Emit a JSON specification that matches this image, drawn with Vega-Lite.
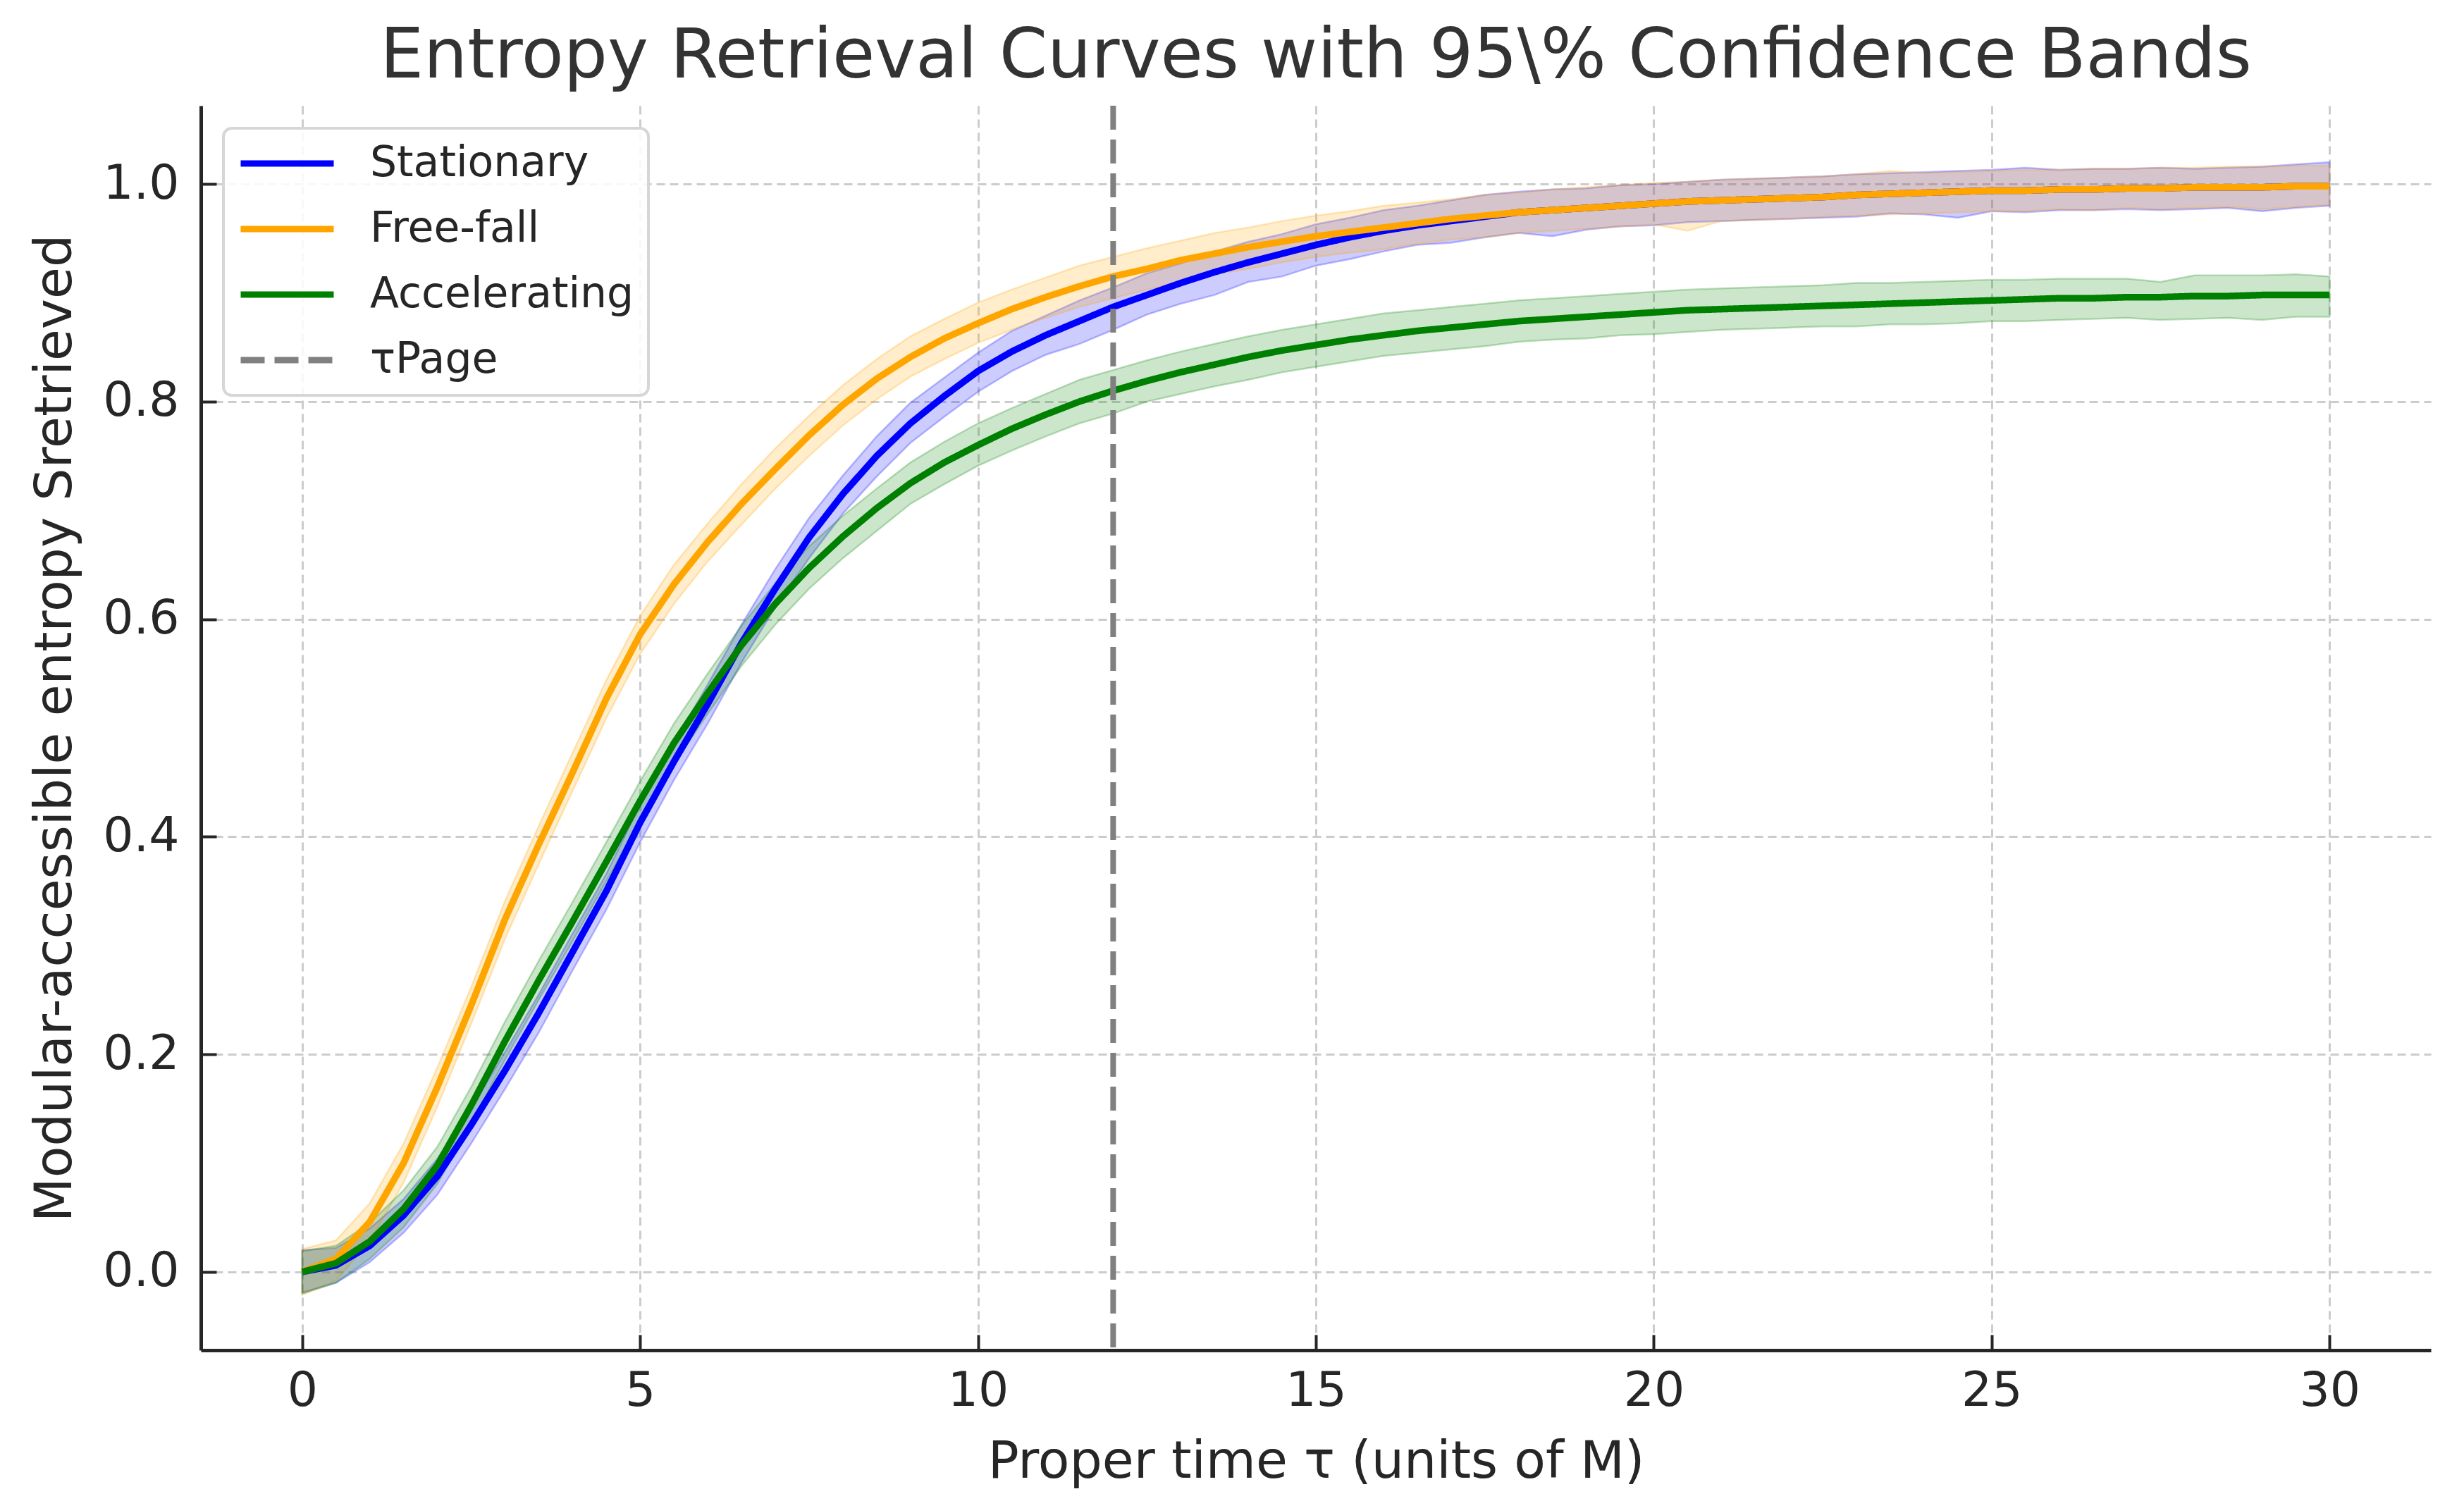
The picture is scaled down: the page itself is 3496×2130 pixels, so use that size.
{
  "$schema": "https://vega.github.io/schema/vega-lite/v6.json",
  "description": "Entropy retrieval curves for three observers with 95% confidence bands and the Page time marked.",
  "autosize": {"type": "none"},
  "padding": {"left": 285, "top": 150, "right": 47, "bottom": 214},
  "width": 3164,
  "height": 1766,
  "background": "white",
  "title": {
    "text": "Entropy Retrieval Curves with 95\\% Confidence Bands",
    "font": "DejaVu Sans",
    "fontSize": 98,
    "fontWeight": "normal",
    "color": "#333333",
    "anchor": "middle",
    "baseline": "alphabetic",
    "offset": -62
  },
  "datasets": {
    "curves": [
      {"s": "Stationary", "t": 0, "y": 0.000, "lo": -0.019, "hi": 0.020},
      {"s": "Stationary", "t": 0.5, "y": 0.006, "lo": -0.010, "hi": 0.022},
      {"s": "Stationary", "t": 1, "y": 0.024, "lo": 0.009, "hi": 0.040},
      {"s": "Stationary", "t": 1.5, "y": 0.052, "lo": 0.036, "hi": 0.067},
      {"s": "Stationary", "t": 2, "y": 0.088, "lo": 0.071, "hi": 0.104},
      {"s": "Stationary", "t": 2.5, "y": 0.135, "lo": 0.118, "hi": 0.151},
      {"s": "Stationary", "t": 3, "y": 0.185, "lo": 0.168, "hi": 0.202},
      {"s": "Stationary", "t": 3.5, "y": 0.238, "lo": 0.220, "hi": 0.255},
      {"s": "Stationary", "t": 4, "y": 0.294, "lo": 0.277, "hi": 0.311},
      {"s": "Stationary", "t": 4.5, "y": 0.350, "lo": 0.333, "hi": 0.366},
      {"s": "Stationary", "t": 5, "y": 0.413, "lo": 0.395, "hi": 0.430},
      {"s": "Stationary", "t": 5.5, "y": 0.469, "lo": 0.452, "hi": 0.486},
      {"s": "Stationary", "t": 6, "y": 0.522, "lo": 0.504, "hi": 0.540},
      {"s": "Stationary", "t": 6.5, "y": 0.578, "lo": 0.560, "hi": 0.595},
      {"s": "Stationary", "t": 7, "y": 0.628, "lo": 0.611, "hi": 0.646},
      {"s": "Stationary", "t": 7.5, "y": 0.675, "lo": 0.656, "hi": 0.693},
      {"s": "Stationary", "t": 8, "y": 0.715, "lo": 0.697, "hi": 0.732},
      {"s": "Stationary", "t": 8.5, "y": 0.750, "lo": 0.731, "hi": 0.768},
      {"s": "Stationary", "t": 9, "y": 0.780, "lo": 0.762, "hi": 0.799},
      {"s": "Stationary", "t": 9.5, "y": 0.805, "lo": 0.786, "hi": 0.822},
      {"s": "Stationary", "t": 10, "y": 0.828, "lo": 0.809, "hi": 0.845},
      {"s": "Stationary", "t": 10.5, "y": 0.846, "lo": 0.828, "hi": 0.865},
      {"s": "Stationary", "t": 11, "y": 0.861, "lo": 0.843, "hi": 0.879},
      {"s": "Stationary", "t": 11.5, "y": 0.874, "lo": 0.853, "hi": 0.893},
      {"s": "Stationary", "t": 12, "y": 0.887, "lo": 0.866, "hi": 0.905},
      {"s": "Stationary", "t": 12.5, "y": 0.898, "lo": 0.880, "hi": 0.918},
      {"s": "Stationary", "t": 13, "y": 0.909, "lo": 0.890, "hi": 0.927},
      {"s": "Stationary", "t": 13.5, "y": 0.919, "lo": 0.898, "hi": 0.938},
      {"s": "Stationary", "t": 14, "y": 0.928, "lo": 0.910, "hi": 0.947},
      {"s": "Stationary", "t": 14.5, "y": 0.936, "lo": 0.915, "hi": 0.954},
      {"s": "Stationary", "t": 15, "y": 0.944, "lo": 0.925, "hi": 0.963},
      {"s": "Stationary", "t": 15.5, "y": 0.951, "lo": 0.931, "hi": 0.969},
      {"s": "Stationary", "t": 16, "y": 0.957, "lo": 0.938, "hi": 0.976},
      {"s": "Stationary", "t": 16.5, "y": 0.962, "lo": 0.944, "hi": 0.980},
      {"s": "Stationary", "t": 17, "y": 0.966, "lo": 0.946, "hi": 0.985},
      {"s": "Stationary", "t": 17.5, "y": 0.970, "lo": 0.951, "hi": 0.990},
      {"s": "Stationary", "t": 18, "y": 0.974, "lo": 0.955, "hi": 0.993},
      {"s": "Stationary", "t": 18.5, "y": 0.976, "lo": 0.952, "hi": 0.995},
      {"s": "Stationary", "t": 19, "y": 0.978, "lo": 0.958, "hi": 0.996},
      {"s": "Stationary", "t": 19.5, "y": 0.980, "lo": 0.961, "hi": 0.999},
      {"s": "Stationary", "t": 20, "y": 0.982, "lo": 0.962, "hi": 1.000},
      {"s": "Stationary", "t": 20.5, "y": 0.984, "lo": 0.965, "hi": 1.002},
      {"s": "Stationary", "t": 21, "y": 0.985, "lo": 0.966, "hi": 1.004},
      {"s": "Stationary", "t": 21.5, "y": 0.986, "lo": 0.967, "hi": 1.005},
      {"s": "Stationary", "t": 22, "y": 0.987, "lo": 0.968, "hi": 1.006},
      {"s": "Stationary", "t": 22.5, "y": 0.988, "lo": 0.969, "hi": 1.007},
      {"s": "Stationary", "t": 23, "y": 0.990, "lo": 0.970, "hi": 1.009},
      {"s": "Stationary", "t": 23.5, "y": 0.991, "lo": 0.973, "hi": 1.010},
      {"s": "Stationary", "t": 24, "y": 0.992, "lo": 0.972, "hi": 1.011},
      {"s": "Stationary", "t": 24.5, "y": 0.993, "lo": 0.969, "hi": 1.012},
      {"s": "Stationary", "t": 25, "y": 0.994, "lo": 0.975, "hi": 1.013},
      {"s": "Stationary", "t": 25.5, "y": 0.994, "lo": 0.974, "hi": 1.015},
      {"s": "Stationary", "t": 26, "y": 0.995, "lo": 0.976, "hi": 1.013},
      {"s": "Stationary", "t": 26.5, "y": 0.995, "lo": 0.976, "hi": 1.014},
      {"s": "Stationary", "t": 27, "y": 0.996, "lo": 0.977, "hi": 1.014},
      {"s": "Stationary", "t": 27.5, "y": 0.996, "lo": 0.976, "hi": 1.015},
      {"s": "Stationary", "t": 28, "y": 0.997, "lo": 0.977, "hi": 1.014},
      {"s": "Stationary", "t": 28.5, "y": 0.997, "lo": 0.978, "hi": 1.015},
      {"s": "Stationary", "t": 29, "y": 0.997, "lo": 0.975, "hi": 1.016},
      {"s": "Stationary", "t": 29.5, "y": 0.998, "lo": 0.978, "hi": 1.018},
      {"s": "Stationary", "t": 30, "y": 0.998, "lo": 0.980, "hi": 1.020},
      {"s": "Free-fall", "t": 0, "y": 0.000, "lo": -0.021, "hi": 0.021},
      {"s": "Free-fall", "t": 0.5, "y": 0.012, "lo": -0.008, "hi": 0.029},
      {"s": "Free-fall", "t": 1, "y": 0.046, "lo": 0.028, "hi": 0.063},
      {"s": "Free-fall", "t": 1.5, "y": 0.100, "lo": 0.082, "hi": 0.118},
      {"s": "Free-fall", "t": 2, "y": 0.170, "lo": 0.152, "hi": 0.188},
      {"s": "Free-fall", "t": 2.5, "y": 0.245, "lo": 0.228, "hi": 0.262},
      {"s": "Free-fall", "t": 3, "y": 0.324, "lo": 0.306, "hi": 0.341},
      {"s": "Free-fall", "t": 3.5, "y": 0.393, "lo": 0.375, "hi": 0.410},
      {"s": "Free-fall", "t": 4, "y": 0.459, "lo": 0.442, "hi": 0.477},
      {"s": "Free-fall", "t": 4.5, "y": 0.527, "lo": 0.509, "hi": 0.544},
      {"s": "Free-fall", "t": 5, "y": 0.586, "lo": 0.568, "hi": 0.603},
      {"s": "Free-fall", "t": 5.5, "y": 0.632, "lo": 0.614, "hi": 0.650},
      {"s": "Free-fall", "t": 6, "y": 0.671, "lo": 0.653, "hi": 0.688},
      {"s": "Free-fall", "t": 6.5, "y": 0.706, "lo": 0.687, "hi": 0.724},
      {"s": "Free-fall", "t": 7, "y": 0.738, "lo": 0.720, "hi": 0.757},
      {"s": "Free-fall", "t": 7.5, "y": 0.769, "lo": 0.750, "hi": 0.787},
      {"s": "Free-fall", "t": 8, "y": 0.797, "lo": 0.778, "hi": 0.815},
      {"s": "Free-fall", "t": 8.5, "y": 0.821, "lo": 0.802, "hi": 0.839},
      {"s": "Free-fall", "t": 9, "y": 0.841, "lo": 0.823, "hi": 0.860},
      {"s": "Free-fall", "t": 9.5, "y": 0.858, "lo": 0.839, "hi": 0.876},
      {"s": "Free-fall", "t": 10, "y": 0.872, "lo": 0.854, "hi": 0.891},
      {"s": "Free-fall", "t": 10.5, "y": 0.885, "lo": 0.866, "hi": 0.903},
      {"s": "Free-fall", "t": 11, "y": 0.896, "lo": 0.877, "hi": 0.914},
      {"s": "Free-fall", "t": 11.5, "y": 0.906, "lo": 0.887, "hi": 0.925},
      {"s": "Free-fall", "t": 12, "y": 0.915, "lo": 0.895, "hi": 0.933},
      {"s": "Free-fall", "t": 12.5, "y": 0.922, "lo": 0.903, "hi": 0.941},
      {"s": "Free-fall", "t": 13, "y": 0.930, "lo": 0.910, "hi": 0.948},
      {"s": "Free-fall", "t": 13.5, "y": 0.936, "lo": 0.917, "hi": 0.955},
      {"s": "Free-fall", "t": 14, "y": 0.942, "lo": 0.922, "hi": 0.960},
      {"s": "Free-fall", "t": 14.5, "y": 0.947, "lo": 0.928, "hi": 0.966},
      {"s": "Free-fall", "t": 15, "y": 0.952, "lo": 0.933, "hi": 0.971},
      {"s": "Free-fall", "t": 15.5, "y": 0.956, "lo": 0.937, "hi": 0.975},
      {"s": "Free-fall", "t": 16, "y": 0.960, "lo": 0.940, "hi": 0.980},
      {"s": "Free-fall", "t": 16.5, "y": 0.964, "lo": 0.945, "hi": 0.983},
      {"s": "Free-fall", "t": 17, "y": 0.968, "lo": 0.949, "hi": 0.986},
      {"s": "Free-fall", "t": 17.5, "y": 0.971, "lo": 0.951, "hi": 0.990},
      {"s": "Free-fall", "t": 18, "y": 0.974, "lo": 0.955, "hi": 0.992},
      {"s": "Free-fall", "t": 18.5, "y": 0.976, "lo": 0.957, "hi": 0.995},
      {"s": "Free-fall", "t": 19, "y": 0.978, "lo": 0.959, "hi": 0.997},
      {"s": "Free-fall", "t": 19.5, "y": 0.980, "lo": 0.961, "hi": 0.999},
      {"s": "Free-fall", "t": 20, "y": 0.982, "lo": 0.963, "hi": 1.001},
      {"s": "Free-fall", "t": 20.5, "y": 0.984, "lo": 0.957, "hi": 1.002},
      {"s": "Free-fall", "t": 21, "y": 0.985, "lo": 0.966, "hi": 1.004},
      {"s": "Free-fall", "t": 21.5, "y": 0.986, "lo": 0.967, "hi": 1.005},
      {"s": "Free-fall", "t": 22, "y": 0.987, "lo": 0.968, "hi": 1.006},
      {"s": "Free-fall", "t": 22.5, "y": 0.988, "lo": 0.970, "hi": 1.007},
      {"s": "Free-fall", "t": 23, "y": 0.990, "lo": 0.971, "hi": 1.009},
      {"s": "Free-fall", "t": 23.5, "y": 0.991, "lo": 0.972, "hi": 1.012},
      {"s": "Free-fall", "t": 24, "y": 0.992, "lo": 0.973, "hi": 1.010},
      {"s": "Free-fall", "t": 24.5, "y": 0.993, "lo": 0.974, "hi": 1.011},
      {"s": "Free-fall", "t": 25, "y": 0.994, "lo": 0.975, "hi": 1.012},
      {"s": "Free-fall", "t": 25.5, "y": 0.994, "lo": 0.975, "hi": 1.013},
      {"s": "Free-fall", "t": 26, "y": 0.995, "lo": 0.977, "hi": 1.013},
      {"s": "Free-fall", "t": 26.5, "y": 0.995, "lo": 0.976, "hi": 1.014},
      {"s": "Free-fall", "t": 27, "y": 0.996, "lo": 0.978, "hi": 1.014},
      {"s": "Free-fall", "t": 27.5, "y": 0.996, "lo": 0.977, "hi": 1.015},
      {"s": "Free-fall", "t": 28, "y": 0.997, "lo": 0.978, "hi": 1.015},
      {"s": "Free-fall", "t": 28.5, "y": 0.997, "lo": 0.979, "hi": 1.016},
      {"s": "Free-fall", "t": 29, "y": 0.997, "lo": 0.977, "hi": 1.016},
      {"s": "Free-fall", "t": 29.5, "y": 0.998, "lo": 0.979, "hi": 1.017},
      {"s": "Free-fall", "t": 30, "y": 0.998, "lo": 0.981, "hi": 1.017},
      {"s": "Accelerating", "t": 0, "y": 0.000, "lo": -0.020, "hi": 0.019},
      {"s": "Accelerating", "t": 0.5, "y": 0.008, "lo": -0.010, "hi": 0.024},
      {"s": "Accelerating", "t": 1, "y": 0.028, "lo": 0.012, "hi": 0.045},
      {"s": "Accelerating", "t": 1.5, "y": 0.058, "lo": 0.041, "hi": 0.075},
      {"s": "Accelerating", "t": 2, "y": 0.098, "lo": 0.081, "hi": 0.115},
      {"s": "Accelerating", "t": 2.5, "y": 0.153, "lo": 0.136, "hi": 0.170},
      {"s": "Accelerating", "t": 3, "y": 0.212, "lo": 0.195, "hi": 0.230},
      {"s": "Accelerating", "t": 3.5, "y": 0.268, "lo": 0.250, "hi": 0.286},
      {"s": "Accelerating", "t": 4, "y": 0.322, "lo": 0.304, "hi": 0.340},
      {"s": "Accelerating", "t": 4.5, "y": 0.377, "lo": 0.359, "hi": 0.395},
      {"s": "Accelerating", "t": 5, "y": 0.433, "lo": 0.414, "hi": 0.451},
      {"s": "Accelerating", "t": 5.5, "y": 0.486, "lo": 0.467, "hi": 0.504},
      {"s": "Accelerating", "t": 6, "y": 0.532, "lo": 0.513, "hi": 0.550},
      {"s": "Accelerating", "t": 6.5, "y": 0.576, "lo": 0.557, "hi": 0.594},
      {"s": "Accelerating", "t": 7, "y": 0.614, "lo": 0.595, "hi": 0.633},
      {"s": "Accelerating", "t": 7.5, "y": 0.647, "lo": 0.628, "hi": 0.667},
      {"s": "Accelerating", "t": 8, "y": 0.676, "lo": 0.656, "hi": 0.695},
      {"s": "Accelerating", "t": 8.5, "y": 0.702, "lo": 0.681, "hi": 0.720},
      {"s": "Accelerating", "t": 9, "y": 0.725, "lo": 0.706, "hi": 0.744},
      {"s": "Accelerating", "t": 9.5, "y": 0.744, "lo": 0.724, "hi": 0.763},
      {"s": "Accelerating", "t": 10, "y": 0.760, "lo": 0.741, "hi": 0.780},
      {"s": "Accelerating", "t": 10.5, "y": 0.775, "lo": 0.755, "hi": 0.794},
      {"s": "Accelerating", "t": 11, "y": 0.788, "lo": 0.768, "hi": 0.807},
      {"s": "Accelerating", "t": 11.5, "y": 0.800, "lo": 0.780, "hi": 0.820},
      {"s": "Accelerating", "t": 12, "y": 0.810, "lo": 0.789, "hi": 0.829},
      {"s": "Accelerating", "t": 12.5, "y": 0.819, "lo": 0.800, "hi": 0.838},
      {"s": "Accelerating", "t": 13, "y": 0.827, "lo": 0.807, "hi": 0.846},
      {"s": "Accelerating", "t": 13.5, "y": 0.834, "lo": 0.814, "hi": 0.853},
      {"s": "Accelerating", "t": 14, "y": 0.841, "lo": 0.820, "hi": 0.860},
      {"s": "Accelerating", "t": 14.5, "y": 0.847, "lo": 0.827, "hi": 0.866},
      {"s": "Accelerating", "t": 15, "y": 0.852, "lo": 0.832, "hi": 0.871},
      {"s": "Accelerating", "t": 15.5, "y": 0.857, "lo": 0.837, "hi": 0.876},
      {"s": "Accelerating", "t": 16, "y": 0.861, "lo": 0.842, "hi": 0.881},
      {"s": "Accelerating", "t": 16.5, "y": 0.865, "lo": 0.845, "hi": 0.884},
      {"s": "Accelerating", "t": 17, "y": 0.868, "lo": 0.848, "hi": 0.887},
      {"s": "Accelerating", "t": 17.5, "y": 0.871, "lo": 0.851, "hi": 0.890},
      {"s": "Accelerating", "t": 18, "y": 0.874, "lo": 0.855, "hi": 0.893},
      {"s": "Accelerating", "t": 18.5, "y": 0.876, "lo": 0.857, "hi": 0.895},
      {"s": "Accelerating", "t": 19, "y": 0.878, "lo": 0.858, "hi": 0.897},
      {"s": "Accelerating", "t": 19.5, "y": 0.880, "lo": 0.861, "hi": 0.899},
      {"s": "Accelerating", "t": 20, "y": 0.882, "lo": 0.862, "hi": 0.901},
      {"s": "Accelerating", "t": 20.5, "y": 0.884, "lo": 0.864, "hi": 0.903},
      {"s": "Accelerating", "t": 21, "y": 0.885, "lo": 0.866, "hi": 0.904},
      {"s": "Accelerating", "t": 21.5, "y": 0.886, "lo": 0.867, "hi": 0.905},
      {"s": "Accelerating", "t": 22, "y": 0.887, "lo": 0.868, "hi": 0.906},
      {"s": "Accelerating", "t": 22.5, "y": 0.888, "lo": 0.869, "hi": 0.907},
      {"s": "Accelerating", "t": 23, "y": 0.889, "lo": 0.869, "hi": 0.909},
      {"s": "Accelerating", "t": 23.5, "y": 0.890, "lo": 0.871, "hi": 0.909},
      {"s": "Accelerating", "t": 24, "y": 0.891, "lo": 0.871, "hi": 0.910},
      {"s": "Accelerating", "t": 24.5, "y": 0.892, "lo": 0.872, "hi": 0.911},
      {"s": "Accelerating", "t": 25, "y": 0.893, "lo": 0.874, "hi": 0.912},
      {"s": "Accelerating", "t": 25.5, "y": 0.894, "lo": 0.874, "hi": 0.912},
      {"s": "Accelerating", "t": 26, "y": 0.895, "lo": 0.875, "hi": 0.913},
      {"s": "Accelerating", "t": 26.5, "y": 0.895, "lo": 0.876, "hi": 0.913},
      {"s": "Accelerating", "t": 27, "y": 0.896, "lo": 0.877, "hi": 0.913},
      {"s": "Accelerating", "t": 27.5, "y": 0.896, "lo": 0.875, "hi": 0.910},
      {"s": "Accelerating", "t": 28, "y": 0.897, "lo": 0.876, "hi": 0.916},
      {"s": "Accelerating", "t": 28.5, "y": 0.897, "lo": 0.877, "hi": 0.916},
      {"s": "Accelerating", "t": 29, "y": 0.898, "lo": 0.875, "hi": 0.916},
      {"s": "Accelerating", "t": 29.5, "y": 0.898, "lo": 0.878, "hi": 0.917},
      {"s": "Accelerating", "t": 30, "y": 0.898, "lo": 0.878, "hi": 0.915}
    ],
    "page": [
      {"s": "τPage", "t": 12}
    ]
  },
  "encoding": {
    "x": {
      "field": "t",
      "type": "quantitative",
      "scale": {"domain": [-1.5, 31.5], "nice": false, "zero": false},
      "axis": {
        "title": "Proper time  τ (units of M)",
        "values": [0, 5, 10, 15, 20, 25, 30],
        "format": "d"
      }
    }
  },
  "layer": [
    {
      "data": {"name": "curves"},
      "mark": {"type": "area", "fillOpacity": 0.2, "strokeOpacity": 0.25, "strokeWidth": 2.5},
      "encoding": {
        "y": {
          "field": "lo",
          "type": "quantitative",
          "scale": {"domain": [-0.072, 1.072], "nice": false, "zero": false},
          "axis": {
            "title": "Modular-accessible entropy Sretrieved",
            "values": [0, 0.2, 0.4, 0.6, 0.8, 1.0],
            "format": ".1f"
          }
        },
        "y2": {"field": "hi"},
        "fill": {
          "field": "s",
          "type": "nominal",
          "scale": {"domain": ["Stationary", "Free-fall", "Accelerating"], "range": ["#0000ff", "#ffa500", "#008000"]},
          "legend": null
        },
        "stroke": {
          "field": "s",
          "type": "nominal",
          "scale": {"domain": ["Stationary", "Free-fall", "Accelerating"], "range": ["#0000ff", "#ffa500", "#008000"]},
          "legend": null
        }
      }
    },
    {
      "data": {"name": "curves"},
      "mark": {"type": "line", "strokeWidth": 9.5},
      "encoding": {
        "y": {"field": "y", "type": "quantitative"},
        "color": {
          "field": "s",
          "type": "nominal",
          "scale": {"domain": ["Stationary", "Free-fall", "Accelerating", "τPage"], "range": ["#0000ff", "#ffa500", "#008000", "#808080"]},
          "legend": {"title": null}
        },
        "strokeDash": {
          "field": "s",
          "type": "nominal",
          "scale": {"domain": ["Stationary", "Free-fall", "Accelerating", "τPage"], "range": [[1, 0], [1, 0], [1, 0], [34, 14]]},
          "legend": {"title": null}
        }
      }
    },
    {
      "data": {"name": "page"},
      "mark": {"type": "rule", "strokeWidth": 8},
      "encoding": {
        "color": {"field": "s", "type": "nominal"},
        "strokeDash": {"field": "s", "type": "nominal"}
      }
    }
  ],
  "config": {
    "view": {"stroke": null},
    "font": "DejaVu Sans",
    "axis": {
      "labelFont": "DejaVu Sans",
      "labelFontSize": 68,
      "labelColor": "#262626",
      "titleFont": "DejaVu Sans",
      "titleFontSize": 73,
      "titleFontWeight": "normal",
      "titleColor": "#262626",
      "domainColor": "#262626",
      "domainWidth": 5,
      "tickColor": "#262626",
      "tickWidth": 4,
      "tickSize": -22,
      "grid": true,
      "gridColor": "#cccccc",
      "gridWidth": 3,
      "gridDash": [12, 7],
      "labelFlush": false,
      "labelOverlap": false
    },
    "axisX": {"labelPadding": 46, "titlePadding": 30},
    "axisY": {"labelPadding": 53, "titlePadding": 30},
    "legend": {
      "orient": "top-left",
      "offset": 32,
      "padding": 20,
      "fillColor": "rgba(255,255,255,0.85)",
      "strokeColor": "#d6d6d6",
      "strokeWidth": 4,
      "cornerRadius": 12,
      "symbolType": "stroke",
      "symbolSize": 17424,
      "symbolStrokeWidth": 9,
      "clipHeight": 60,
      "rowPadding": 33,
      "labelOffset": 47,
      "labelFont": "DejaVu Sans",
      "labelFontSize": 60,
      "labelColor": "#262626",
      "labelLimit": 800
    }
  }
}
